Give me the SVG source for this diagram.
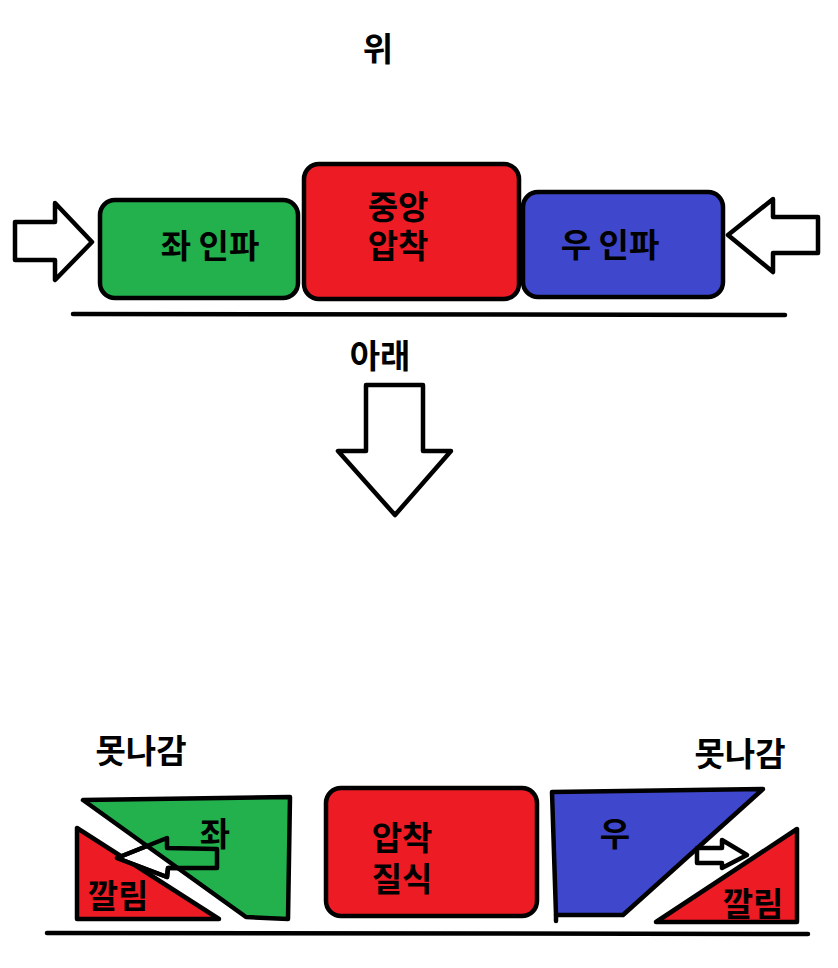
<svg xmlns="http://www.w3.org/2000/svg" width="838" height="968" viewBox="0 0 838 968">
<style>
.t{font-family:"Noto Sans CJK KR","Liberation Sans",sans-serif;font-weight:bold;font-size:33px;fill:#000;text-anchor:middle}
.o{stroke:#000;stroke-width:4.5;stroke-linejoin:round;stroke-linecap:round}
.g{fill:#22b14c}.r{fill:#ed1c24}.b{fill:#3f48cc}.w{fill:#fff}.n{fill:none}
</style>
<rect width="838" height="968" fill="#fff"/>
<text class="t" x="378" y="61">위</text>
<g id="arrow-left-in"><polygon class="o w" points="15,222 55,222 55,203 92,242 55,280 55,260 15,260"/></g>
<g id="left-infill"><rect class="o g" x="100" y="200" width="198" height="98" rx="15"/><text class="t" x="210" y="258">좌 인파</text></g>
<g id="center-compress"><rect class="o r" x="304" y="164" width="215" height="135" rx="15"/><text class="t" x="398" y="219">중앙<tspan x="398" dy="39">압착</tspan></text></g>
<g id="right-infill"><rect class="o b" x="523" y="192" width="200" height="105" rx="15"/><text class="t" x="610" y="257">우 인파</text></g>
<g id="arrow-right-in"><polygon class="o w" points="818,217 773,217 773,199 728,235 773,272 773,253 818,253"/></g>
<g id="ground-top"><line class="o" x1="73" y1="314" x2="785" y2="315"/></g>
<text class="t" x="380" y="368">아래</text>
<g id="arrow-down"><polygon class="o w" points="366,385 423,385 423,451 451,451 395,515 338,451 366,451"/></g>
<text class="t" x="141" y="763">못나감</text>
<text class="t" x="740" y="766">못나감</text>
<g id="left-shear"><polygon class="o r" points="77,828 77,919 219,919"/><text class="t" x="118" y="908">깔림</text></g>
<g id="left-piece">
<polygon class="o w" points="217,849 167,848 167,838 117,858 167,877 168,868 217,868"/>
<polygon class="g" points="83,800 290,797 288,919 246,917"/>
<polygon class="o n" points="83,800 290,797 288,919 246,917"/>
<polygon class="o n" points="217,849 167,848 167,838 117,858 167,877 168,868 217,868"/>
<text class="t" x="215" y="846">좌</text>
</g>
<g id="center-stuck"><rect class="o r" x="326" y="788" width="211" height="128" rx="15"/><text class="t" x="402" y="850">압착<tspan x="402" dy="41">질식</tspan></text></g>
<g id="right-piece"><polygon class="o b" points="552,792 763,789 623,915 556,915"/><line class="o" x1="556" y1="915" x2="556" y2="921"/><text class="t" x="615" y="846">우</text></g>
<g id="right-shear"><polygon class="o r" points="797,829 797,922 656,922"/><text class="t" x="753" y="916">깔림</text></g>
<g id="arrow-right-out"><polygon class="o w" points="697,848 722,848 722,840 747,855 722,868 722,863 697,863"/></g>
<g id="ground-bottom"><line class="o" x1="47" y1="933" x2="808" y2="934"/></g>
</svg>
